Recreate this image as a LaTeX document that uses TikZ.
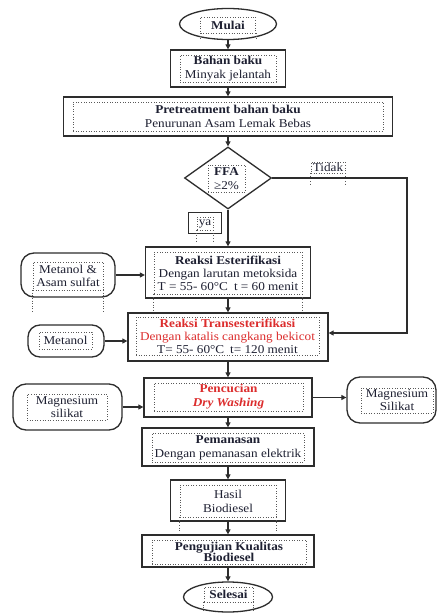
\documentclass[tikz,border=0pt]{standalone}
\usepackage{fontspec}
\setmainfont{Liberation Serif}[FakeStretch=1.1]
\usepackage{xcolor}
\usepackage{tikz}
\usetikzlibrary{positioning, shapes.geometric, arrows.meta}
\definecolor{boxline}{RGB}{45, 45, 45}
\definecolor{inktext}{RGB}{30, 32, 50}
\definecolor{flowred}{RGB}{220, 45, 45}
\newcommand{\flowsize}{\fontsize{12bp}{14bp}\selectfont}
\newcommand{\redtxt}[1]{\textcolor{flowred}{#1}}
\newcommand{\dotlegs}[2]{\draw[dotline] (#1.south west) -- ++(0,#2) (#1.south east) -- ++(0,#2);}

\begin{document}
\begin{tikzpicture}[
  x=1bp, y=-1bp,
  sz/.style 2 args={minimum width=#1bp, minimum height=#2bp},
  procbox/.style={rectangle, draw=boxline, line width=1.3bp, inner sep=0},
  termnode/.style={ellipse, draw=boxline, line width=1.3bp, inner sep=0},
  decnode/.style={diamond, draw=boxline, line width=1.3bp, inner sep=0},
  inputbox/.style={rectangle, rounded corners=13bp, draw=boxline, line width=1.3bp, inner sep=0},
  dotline/.style={draw=black!65, line width=0.6bp, dotted},
  dotframe/.style={dotline, inner sep=0, align=center, text=inktext, font=\flowsize},
  flowarrow/.style={draw=boxline, line width=1.1bp, -{Triangle[length=5bp, width=5bp]}},
]

\useasboundingbox[fill=white] (0,0) rectangle (437,613);

% ==================== Mulai ====================
\node[termnode, sz={97}{31}] (mulai) at (228,24) {};
\node[dotframe, sz={55}{16}] (mulaiT) at (228,25) {\textbf{Mulai}};
\dotlegs{mulaiT}{6}

% ==================== Bahan baku ====================
\node[procbox, sz={115}{37}] (bahan) at (228,68.5) {};
\node[dotframe, sz={96}{27}] (bahanT) at (228,68.5) {\textbf{Bahan baku}\\Minyak jelantah};

% ==================== Pretreatment ====================
\node[procbox, sz={329}{39}] (pretreat) at (228,116.5) {};
\node[dotframe, sz={310}{29}] (pretreatT) at (228,116.5) {\textbf{Pretreatment bahan baku}\\Penurunan Asam Lemak Bebas};

% ==================== FFA ====================
\node[decnode, sz={87}{62}] (ffa) at (228,178) {};
\node[dotframe, sz={37}{27}] (ffaT) at (226.5,178.5) {\textbf{FFA}\\≥2\%};

\node[dotframe, sz={34}{11}] (tidakT) at (328,167.5) {Tidak};
\dotlegs{tidakT}{12}

\node[procbox, line width=1bp, sz={33}{21}] (yabox) at (204.5,222.5) {};
\node[dotframe, sz={16}{13}] (yaT) at (205,223.5) {ya};
\dotlegs{yaT}{12}

% ==================== Reaksi Esterifikasi ====================
\node[procbox, sz={165}{51}] (ester) at (228,272.5) {};
\node[dotframe, sz={148}{42}, font=\fontsize{12bp}{13bp}\selectfont] (esterT) at (228,273)
  {\textbf{Reaksi Esterifikasi}\\Dengan larutan metoksida\\T = 55- 60°C\enspace t = 60 menit};
\dotlegs{esterT}{18}

\node[inputbox, sz={94}{44}] (metas) at (68,275) {};
\node[dotframe, sz={70}{28}, font=\fontsize{12bp}{13bp}\selectfont] (metasT) at (68,276) {Metanol \&\\Asam sulfat};
\dotlegs{metasT}{22}

% ==================== Reaksi Transesterifikasi ====================
\node[procbox, sz={200}{48}] (trans) at (228,337) {};
\node[dotframe, sz={183}{38}, font=\fontsize{12bp}{13bp}\selectfont] (transT) at (227.5,336)
  {\redtxt{\textbf{Reaksi Transesterifikasi}}\\\redtxt{Dengan katalis cangkang bekicot}\\T= 55- 60°C\enspace t= 120 menit};

\node[inputbox, rounded corners=12bp, sz={76}{32}] (metanol) at (66,341) {};
\node[dotframe, sz={53}{17}] (metanolT) at (65.5,340.5) {Metanol};

% ==================== Pencucian ====================
\node[procbox, sz={168}{39}] (pencuci) at (228,397.5) {};
\node[dotframe, sz={149}{28}] (pencuciT) at (228.5,397) {\redtxt{\textbf{Pencucian}}\\\redtxt{\textbf{\textit{Dry Washing}}}};

\node[inputbox, sz={109}{46}] (mgsL) at (67.5,407) {};
\node[dotframe, sz={80}{26}, font=\fontsize{12bp}{13bp}\selectfont] (mgsLT) at (67,407) {Magnesium\\silikat};

\node[inputbox, sz={89}{46}] (mgsR) at (391.5,400) {};
\node[dotframe, sz={72}{25}, font=\fontsize{12bp}{13bp}\selectfont] (mgsRT) at (397,400.5) {Magnesium\\Silikat};

% ==================== Pemanasan ====================
\node[procbox, sz={172}{38}] (pemanas) at (228,447) {};
\node[dotframe, sz={152}{29}] (pemanasT) at (228,447.5) {\textbf{Pemanasan}\\Dengan pemanasan elektrik};

% ==================== Hasil Biodiesel ====================
\node[procbox, sz={115}{41}] (hasil) at (228,500.5) {};
\node[dotframe, sz={96}{32}] (hasilT) at (228,501) {Hasil\\Biodiesel};
\dotlegs{hasilT}{15}

% ==================== Pengujian Kualitas ====================
\node[procbox, sz={172}{32}] (uji) at (228,551) {};
\node[dotframe, sz={154}{24}, font=\fontsize{12bp}{11bp}\selectfont] (ujiT) at (229,552) {\textbf{Pengujian Kualitas}\\\textbf{Biodiesel}};

% ==================== Selesai ====================
\node[termnode, sz={89}{30}] (selesai) at (228,597) {};
\node[dotframe, sz={49}{15}] (selesaiT) at (228.5,594.5) {\textbf{Selesai}};
\dotlegs{selesaiT}{8}

% ==================== Arrows ====================
\draw[flowarrow] (mulai) -- (bahan);
\draw[flowarrow] (bahan) -- (pretreat);
\draw[flowarrow] (pretreat) -- (ffa);
\draw[flowarrow] (ffa.south) -- (ester.north);
\coordinate (rtrack) at (407,333);
\draw[flowarrow] (ffa.east) -| (rtrack) -- (rtrack -| trans.east);
\draw[flowarrow] (metas.east) -- (metas.east -| ester.west);
\draw[flowarrow] (ester) -- (trans);
\draw[flowarrow] (metanol.east) -- (metanol.east -| trans.west);
\draw[flowarrow] (trans) -- (pencuci);
\draw[flowarrow] (mgsL.east) -- (mgsL.east -| pencuci.west);
\draw[flowarrow] (pencuci.east) -- (pencuci.east -| mgsR.west);
\draw[flowarrow] (pencuci) -- (pemanas);
\draw[flowarrow] (pemanas) -- (hasil);
\draw[flowarrow] (hasil) -- (uji);
\draw[flowarrow] (uji) -- (selesai);

\end{tikzpicture}
\end{document}
